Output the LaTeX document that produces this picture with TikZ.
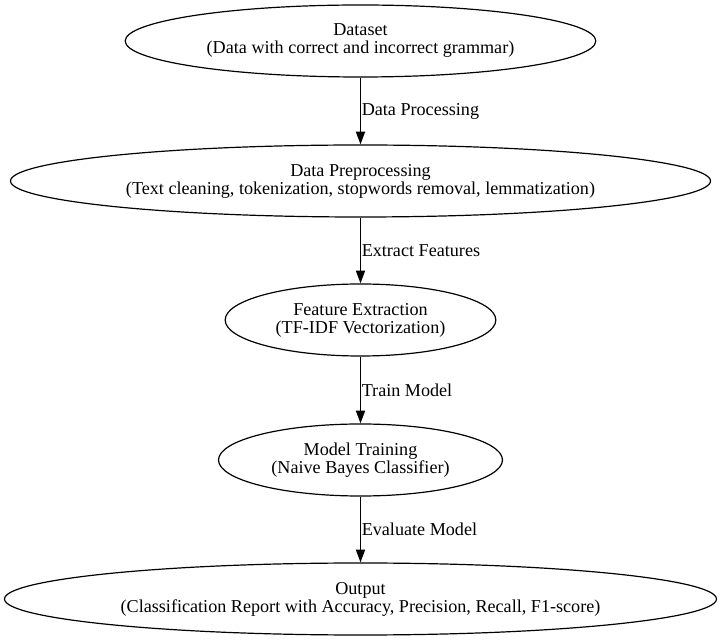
\documentclass[tikz,border=0pt]{standalone}
\usepackage{fontspec}
\setmainfont{Liberation Serif}
\usetikzlibrary{shapes.geometric,arrows.meta}
\begin{document}
\begin{tikzpicture}[x=0.75pt,y=-0.75pt,
  every node/.style={font=\fontsize{13.6}{13.5}\selectfont},
  stage/.style={draw, ellipse, line width=0.9pt, inner sep=0pt, align=center, minimum height=54pt},
  flow/.style={line width=0.9pt, -{Triangle[length=9.5pt,width=6.8pt]}},
  lbl/.style={right, inner sep=0.5pt}]
\useasboundingbox (0,0) rectangle (722,641);
\node[stage, minimum width=353pt] (n1) at (360.5,41) {Dataset\\(Data with correct and incorrect grammar)};
\node[stage, minimum width=525pt] (n2) at (360.5,181) {Data Preprocessing\\(Text cleaning, tokenization, stopwords removal, lemmatization)};
\node[stage, minimum width=203pt] (n3) at (360.5,320) {Feature Extraction\\(TF-IDF Vectorization)};
\node[stage, minimum width=213pt] (n4) at (360.5,460) {Model Training\\(Naive Bayes Classifier)};
\node[stage, minimum width=534pt] (n5) at (360.5,599) {Output\\(Classification Report with Accuracy, Precision, Recall, F1-score)};
\draw[flow] (n1.south) -- node[lbl] {Data Processing} (n2.north);
\draw[flow] (n2.south) -- node[lbl] {Extract Features} (n3.north);
\draw[flow] (n3.south) -- node[lbl] {Train Model} (n4.north);
\draw[flow] (n4.south) -- node[lbl] {Evaluate Model} (n5.north);
\end{tikzpicture}
\end{document}
